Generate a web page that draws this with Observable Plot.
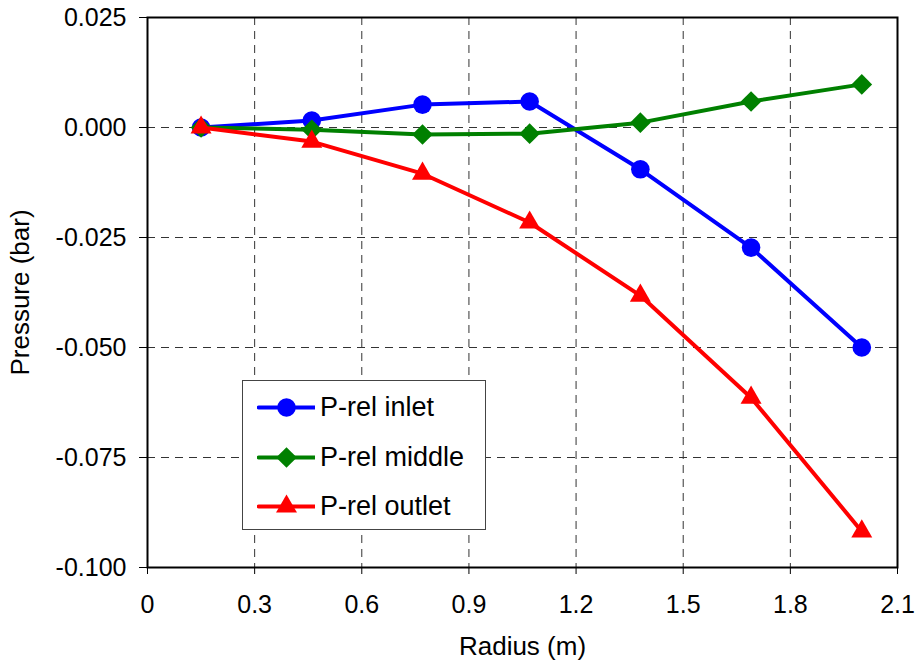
<!DOCTYPE html>
<html><head><meta charset="utf-8">
<script src="https://cdn.jsdelivr.net/npm/d3@7"></script>
<script src="https://cdn.jsdelivr.net/npm/@observablehq/plot@0.6"></script>
<style>
body{margin:0;background:#fff;font-family:"Liberation Sans",Arial,sans-serif;}
#wrap{position:relative;width:917px;height:666px;}
.main text{font-size:25px;}
.main g[aria-label="x-axis label"] text,.main g[aria-label="y-axis label"] text{font-size:26px;}
#legend{position:absolute;left:242px;top:380px;width:242px;height:148px;border:1.5px solid #444;background:#fff;}
.row{position:absolute;left:14px;height:40px;display:flex;align-items:center;font-size:27px;color:#000;}
.row svg{margin-right:5px;}
</style>
</head><body><div id="wrap"></div>
<script>
const radius = [0.15, 0.46, 0.77, 1.07, 1.38, 1.69, 2.0];
const inlet  = [0, 0.0016, 0.0052, 0.0059, -0.0095, -0.0273, -0.0500];
const middle = [0, -0.0005, -0.0016, -0.0014, 0.0011, 0.0059, 0.0098];
const outlet = [0, -0.0032, -0.0105, -0.0216, -0.0382, -0.0614, -0.0918];
const seriesNames = ["P-rel inlet", "P-rel middle", "P-rel outlet"];
const seriesColors = ["#0000ff", "#008000", "#ff0000"];
const seriesSymbols = ["circle", "diamond2", "triangle2"];
const xTicks = [0, 0.3, 0.6, 0.9, 1.2, 1.5, 1.8, 2.1];
const yTicks = [0.025, 0, -0.025, -0.05, -0.075, -0.1];

const values = [inlet, middle, outlet];
const data = [];
values.forEach((arr, s) => arr.forEach((v, i) => data.push({x: radius[i], y: v, s})));

const marks = [
  Plot.gridX(xTicks.slice(1, -1), {stroke: "#333", strokeOpacity: 1, strokeDasharray: "8,6", strokeWidth: 1}),
  Plot.gridY(yTicks.slice(1, -1), {stroke: "#333", strokeOpacity: 1, strokeDasharray: "8,6", strokeWidth: 1}),
  Plot.axisX(xTicks, {tickSize: 7, tickPadding: 21, tickFormat: d => String(+d.toFixed(1)), label: "Radius (m)", labelAnchor: "center", labelOffset: 87, labelArrow: "none"}),
  Plot.axisY(yTicks, {tickSize: 8, tickPadding: 13, tickFormat: d => d.toFixed(3), label: "Pressure (bar)", labelAnchor: "center", labelOffset: 137, labelArrow: "none"}),
];
[0, 1, 2].forEach(s => {
  const d = data.filter(p => p.s === s);
  marks.push(Plot.line(d, {x: "x", y: "y", stroke: seriesColors[s], strokeWidth: 4}));
  marks.push(Plot.dot(d, {x: "x", y: "y", fill: seriesColors[s], stroke: "none", symbol: seriesSymbols[s], r: s === 2 ? 10 : 9.3}));
});
marks.push(Plot.frame({stroke: "#000", strokeWidth: 2}));

const chart = Plot.plot({
  className: "main",
  width: 917, height: 666,
  marginLeft: 147, marginRight: 20, marginTop: 17, marginBottom: 99,
  style: {fontFamily: "'Liberation Sans', Arial, sans-serif", color: "#000", background: "#fff"},
  x: {domain: [0, 2.1]},
  y: {domain: [-0.1, 0.025]},
  marks
});
const wrap = document.getElementById("wrap");
wrap.appendChild(chart);

// legend
const legend = document.createElement("div");
legend.id = "legend";
const tops = [6, 56, 105];
seriesNames.forEach((name, s) => {
  const row = document.createElement("div");
  row.className = "row";
  row.style.top = tops[s] + "px";
  const sw = Plot.plot({
    width: 58, height: 30, margin: 0,
    x: {domain: [0, 1], axis: null}, y: {domain: [0, 1], axis: null},
    marks: [
      Plot.line([{a: 0.02, b: 0.5}, {a: 0.98, b: 0.5}], {x: "a", y: "b", stroke: seriesColors[s], strokeWidth: 4}),
      Plot.dot([{a: 0.5, b: 0.5}], {x: "a", y: "b", fill: seriesColors[s], stroke: "none", symbol: seriesSymbols[s], r: s === 2 ? 10 : 9.3})
    ]
  });
  row.appendChild(sw);
  const t = document.createElement("span");
  t.textContent = name;
  row.appendChild(t);
  legend.appendChild(row);
});
wrap.appendChild(legend);
</script>
</body></html>
